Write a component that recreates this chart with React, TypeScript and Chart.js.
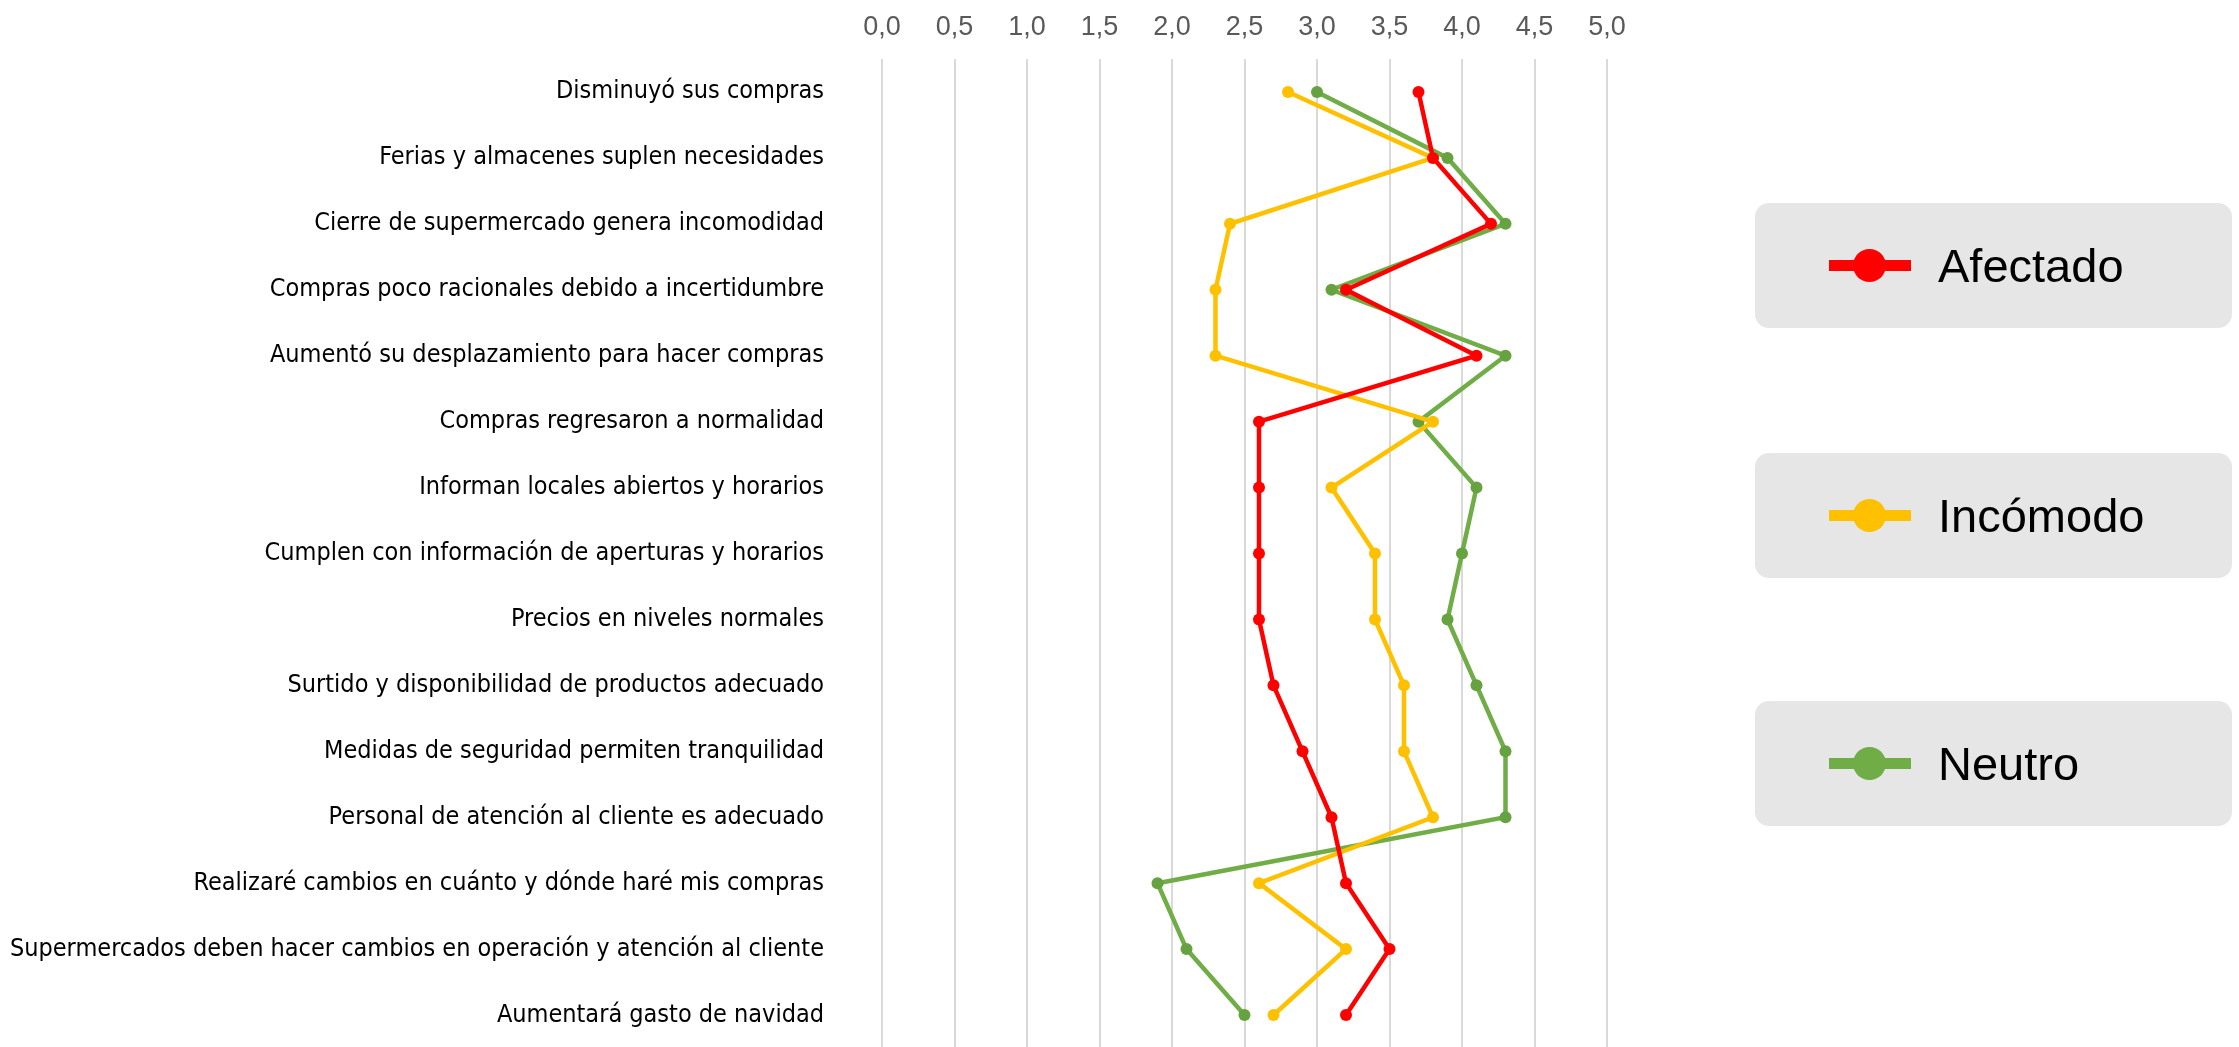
import React, { useEffect, useRef } from 'react';
import { Chart, registerables } from 'chart.js';

Chart.register(...registerables);

const categories = [
  'Disminuyó sus compras',
  'Ferias y almacenes suplen necesidades',
  'Cierre de supermercado genera incomodidad',
  'Compras poco racionales debido a incertidumbre',
  'Aumentó su desplazamiento para hacer compras',
  'Compras regresaron a normalidad',
  'Informan locales abiertos y horarios',
  'Cumplen con información de aperturas y horarios',
  'Precios en niveles normales',
  'Surtido y disponibilidad de productos adecuado',
  'Medidas de seguridad permiten tranquilidad',
  'Personal de atención al cliente es adecuado',
  'Realizaré cambios en cuánto y dónde haré mis compras',
  'Supermercados deben hacer cambios en operación y atención al cliente',
  'Aumentará gasto de navidad',
];

const afectado = [3.7, 3.8, 4.2, 3.2, 4.1, 2.6, 2.6, 2.6, 2.6, 2.7, 2.9, 3.1, 3.2, 3.5, 3.2];
const incomodo = [2.8, 3.8, 2.4, 2.3, 2.3, 3.8, 3.1, 3.4, 3.4, 3.6, 3.6, 3.8, 2.6, 3.2, 2.7];
const neutro = [3.0, 3.9, 4.3, 3.1, 4.3, 3.7, 4.1, 4.0, 3.9, 4.1, 4.3, 4.3, 1.9, 2.1, 2.5];

const seriesNames = ['Afectado', 'Incómodo', 'Neutro'];
const seriesColors = ['#FF0000', '#FFC000', '#70AD47'];
const pointColors = ['#FF0000', '#FFC000', '#66A23F'];
const seriesValues = [afectado, incomodo, neutro];

const tickLabels = ['0,0', '0,5', '1,0', '1,5', '2,0', '2,5', '3,0', '3,5', '4,0', '4,5', '5,0'];

const W = 2239;
const H = 1047;
const CANVAS_H = 1054;

export default function App() {
  const ref = useRef<HTMLCanvasElement>(null);

  useEffect(() => {
    document.body.style.margin = '0';
    const canvas = ref.current;
    if (!canvas) return;
    const chart = new Chart(canvas, {
      type: 'line',
      data: {
        labels: categories,
        datasets: seriesNames.map((name, i) => ({
          label: name,
          data: seriesValues[i],
          borderColor: seriesColors[i],
          backgroundColor: pointColors[i],
          pointBackgroundColor: pointColors[i],
          pointBorderColor: pointColors[i],
          borderWidth: 4.5,
          pointRadius: 6,
          pointBorderWidth: 0,
          fill: false,
          tension: 0,
        })),
      },
      options: {
        indexAxis: 'y',
        responsive: false,
        animation: false,
        layout: { padding: { left: 0, right: 632, top: 0, bottom: 0 } },
        plugins: {
          legend: { display: false },
          tooltip: { enabled: false },
        },
        scales: {
          x: {
            type: 'linear',
            position: 'top',
            min: 0,
            max: 5,
            ticks: {
              stepSize: 0.5,
              callback: (_v: any, i: number) => tickLabels[i],
              color: '#595959',
              font: { family: "'Liberation Sans', Arial, sans-serif", size: 27 },
              padding: 15,
            },
            grid: { color: '#D9D9D9', lineWidth: 2, drawTicks: false },
            border: { display: false },
            afterFit: (s: any) => {
              s.height = 59;
              s.paddingLeft = 0;
              s.paddingRight = 0;
            },
          },
          y: {
            type: 'category',
            offset: true,
            grid: { display: false, drawTicks: false },
            border: { display: false },
            ticks: {
              autoSkip: false,
              color: '#000000',
              font: { family: "'DejaVu Sans Condensed', 'Liberation Sans Narrow', sans-serif", size: 25 },
              padding: 58,
            },
            afterFit: (s: any) => {
              s.width = 882;
              s.paddingTop = 0;
              s.paddingBottom = 0;
            },
          },
        },
      } as any,
    });
    return () => chart.destroy();
  }, []);

  const boxTops = [203, 453, 701];

  return (
    <div style={{ position: 'relative', width: W, height: H, overflow: 'hidden', background: '#fff' }}>
      <canvas ref={ref} width={W} height={CANVAS_H} style={{ display: 'block', width: W, height: CANVAS_H }} />
      {seriesNames.map((name, i) => (
        <div
          key={name}
          style={{
            position: 'absolute',
            left: 1755,
            top: boxTops[i],
            width: 477,
            height: 125,
            background: '#E6E6E6',
            borderRadius: 14,
          }}
        >
          <div
            style={{
              position: 'absolute',
              left: 74,
              top: 57,
              width: 82,
              height: 11,
              background: seriesColors[i],
            }}
          />
          <div
            style={{
              position: 'absolute',
              left: 98,
              top: 46,
              width: 33,
              height: 33,
              borderRadius: '50%',
              background: seriesColors[i],
            }}
          />
          <div
            style={{
              position: 'absolute',
              left: 183,
              top: 0,
              height: 125,
              lineHeight: '125px',
              fontFamily: "'Liberation Sans', Arial, sans-serif",
              fontSize: 47,
              color: '#000',
              whiteSpace: 'nowrap',
            }}
          >
            {name}
          </div>
        </div>
      ))}
    </div>
  );
}
